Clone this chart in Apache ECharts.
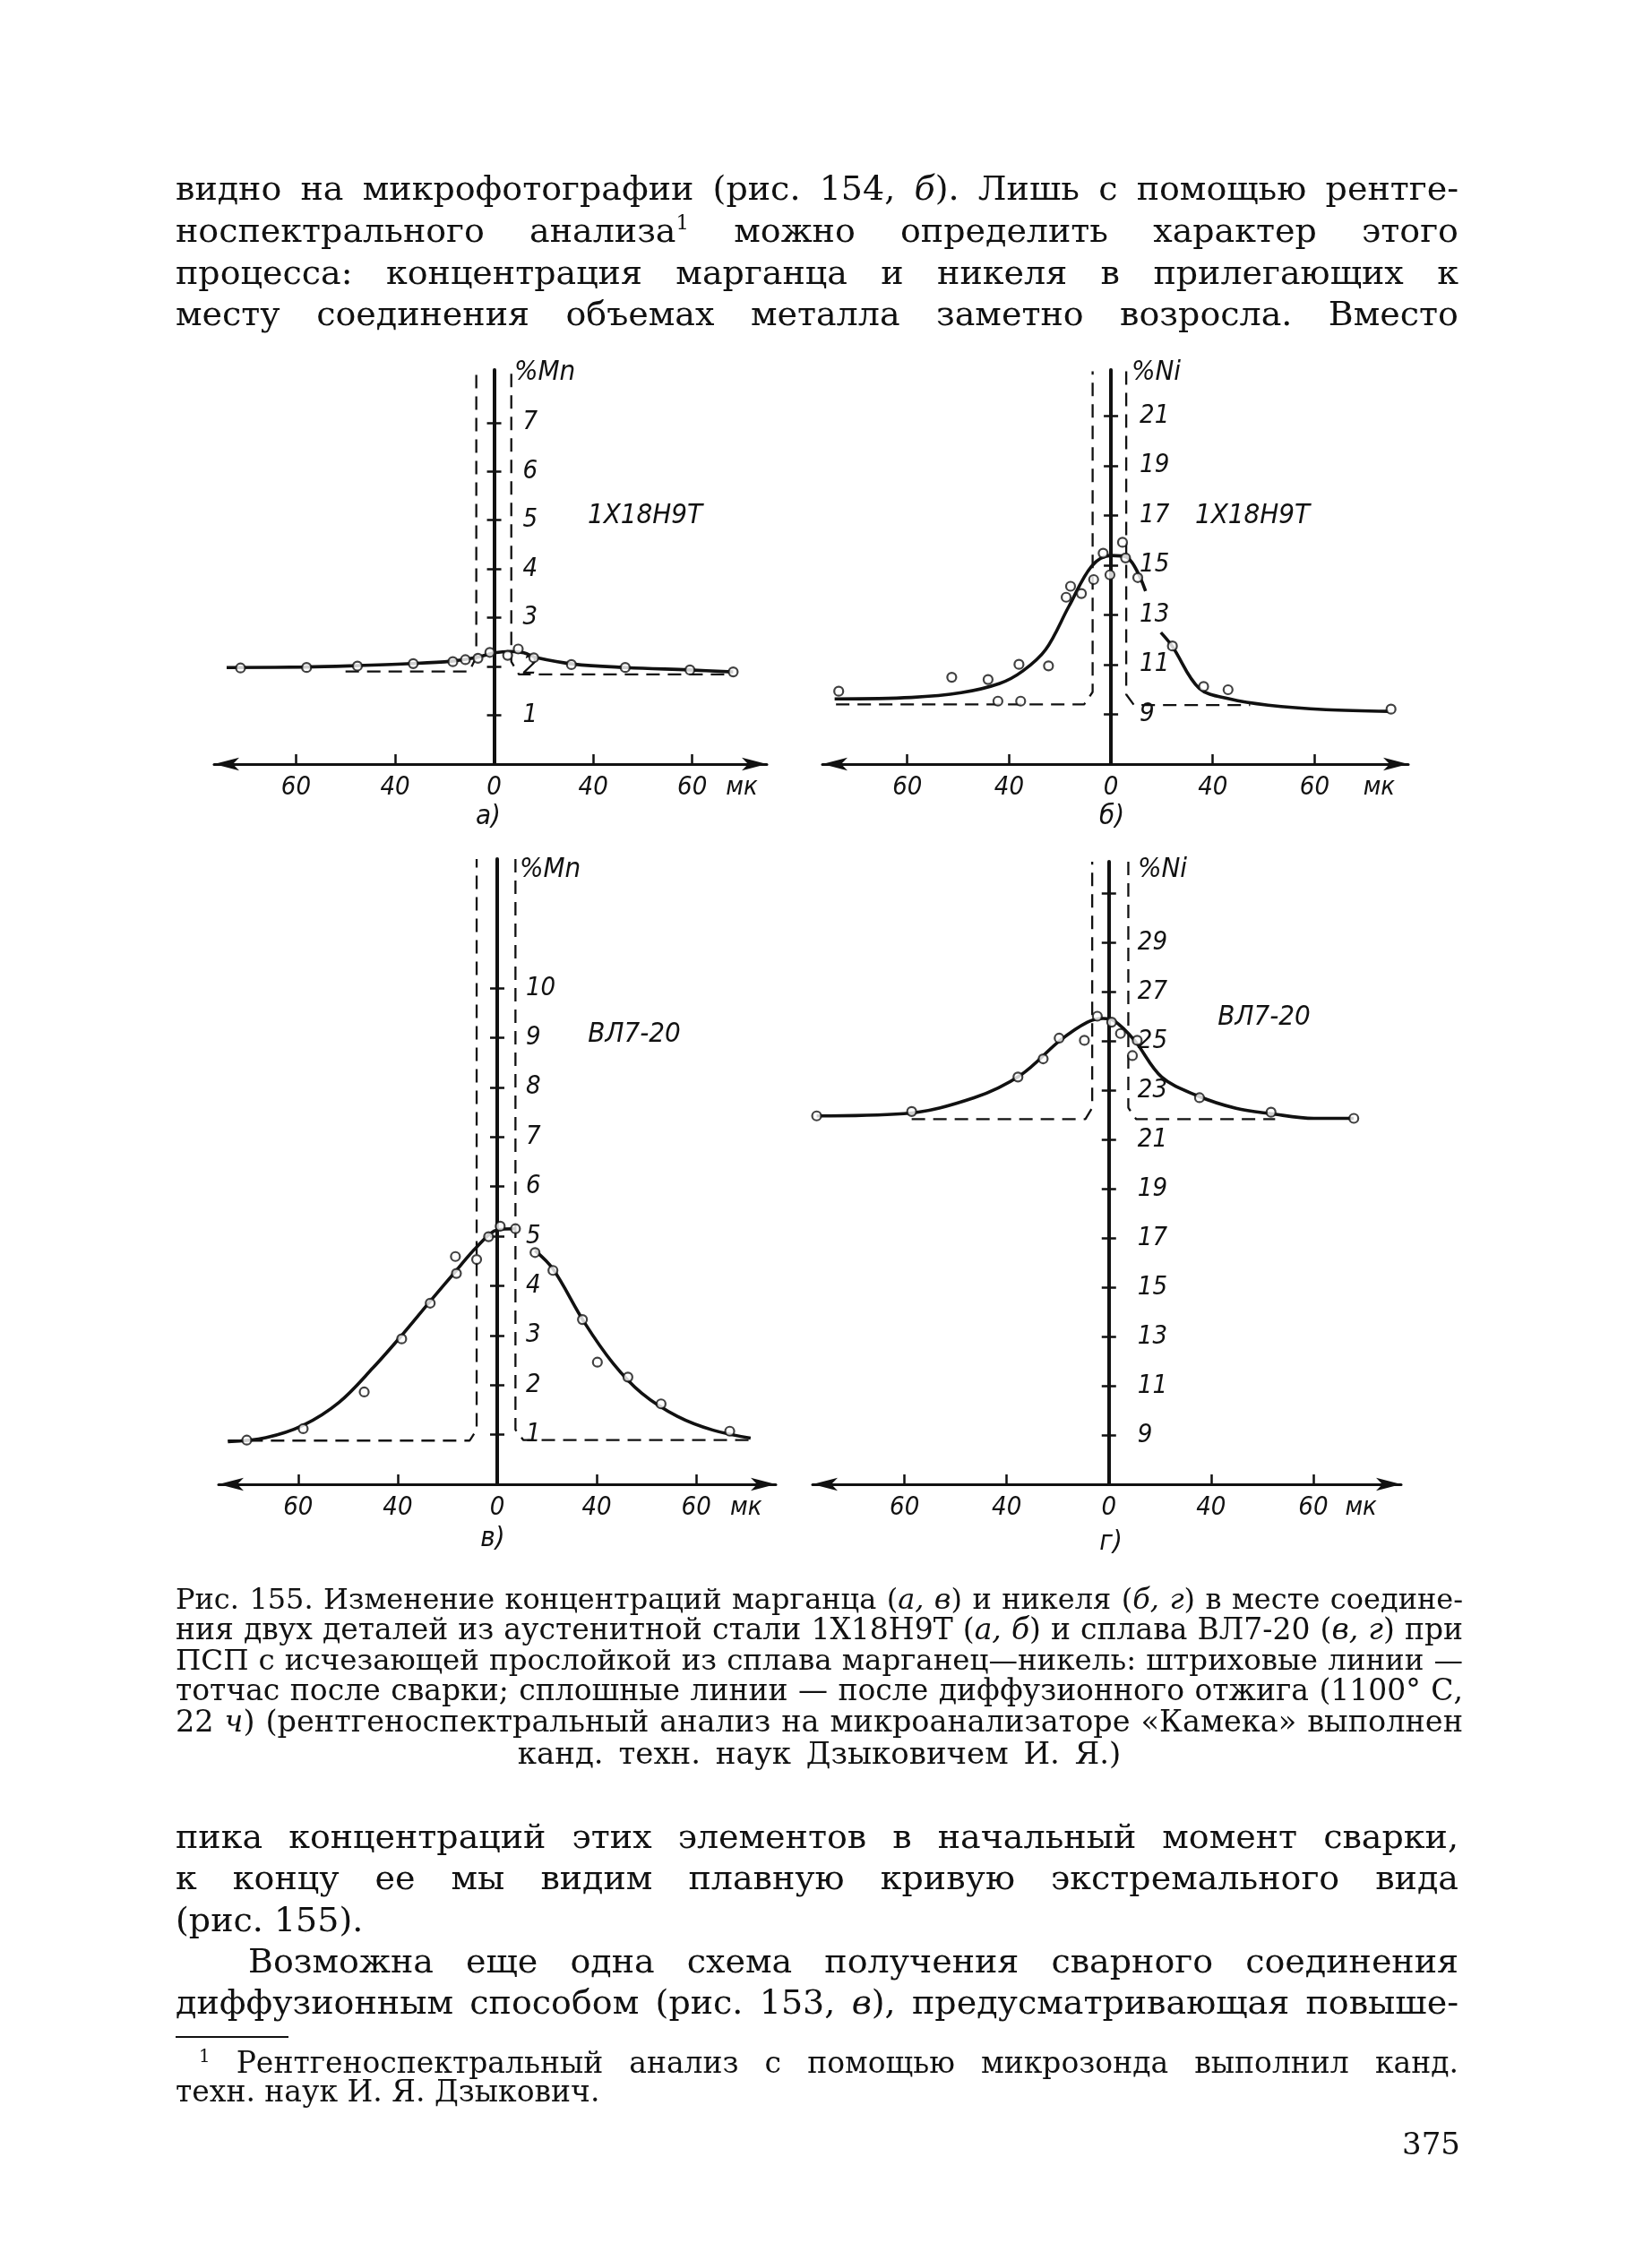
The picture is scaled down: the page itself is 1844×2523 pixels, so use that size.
<!DOCTYPE html>
<html>
<head>
<meta charset="utf-8">
<script src="https://cdn.jsdelivr.net/npm/echarts@6/dist/echarts.min.js"></script>
<style>
  body { margin: 0; background: #fff; }
  #page { position: relative; width: 1844px; height: 2523px; background: #fff; overflow: hidden; }
  #chart { position: absolute; left: 0; top: 0; width: 1844px; height: 2523px; }
  .ln { position: absolute; white-space: nowrap; font-family: "DejaVu Serif", "Liberation Serif", serif; color: #111; }
  .b { font-size: 38px; line-height: 46px; left: 196px; width: 1432px; }
  .c { font-size: 34px; line-height: 34px; left: 196px; width: 1437px; }
  .f { font-size: 33px; line-height: 32px; }
  .j { text-align: justify; text-align-last: justify; }
  sup { font-size: 60%; line-height: 0; }
</style>
</head>
<body>
<div id="page">
  <div id="chart"></div>

  <div class="ln b j" style="top:187px">видно на микрофотографии (рис. 154, <i>б</i>). Лишь с помощью рентге-</div>
  <div class="ln b j" style="top:234px">носпектрального анализа<sup>1</sup> можно определить характер этого</div>
  <div class="ln b j" style="top:281px">процесса: концентрация марганца и никеля в прилегающих к</div>
  <div class="ln b j" style="top:327px">месту соединения объемах металла заметно возросла. Вместо</div>

  <div class="ln c j" style="top:1768px">Рис. 155. Изменение концентраций марганца (<i>а, в</i>) и никеля (<i>б, г</i>) в месте соедине-</div>
  <div class="ln c j" style="top:1802px">ния двух деталей из аустенитной стали 1Х18Н9Т (<i>а, б</i>) и сплава ВЛ7-20 (<i>в, г</i>) при</div>
  <div class="ln c j" style="top:1836px">ПСП с исчезающей прослойкой из сплава марганец—никель: штриховые линии —</div>
  <div class="ln c j" style="top:1870px">тотчас после сварки; сплошные линии — после диффузионного отжига (1100° С,</div>
  <div class="ln c j" style="top:1905px">22 <i>ч</i>) (рентгеноспектральный анализ на микроанализаторе «Камека» выполнен</div>
  <div class="ln c" style="top:1940px; text-align:center; word-spacing:6px">канд. техн. наук Дзыковичем И. Я.)</div>

  <div class="ln b j" style="top:2027px">пика концентраций этих элементов в начальный момент сварки,</div>
  <div class="ln b j" style="top:2073px">к концу ее мы видим плавную кривую экстремального вида</div>
  <div class="ln b" style="top:2120px">(рис. 155).</div>
  <div class="ln b j" style="top:2166px; left:277px; width:1351px">Возможна еще одна схема получения сварного соединения</div>
  <div class="ln b j" style="top:2212px">диффузионным способом (рис. 153, <i>в</i>), предусматривающая повыше-</div>

  <div style="position:absolute; left:196px; top:2273px; width:126px; height:2px; background:#111"></div>
  <div class="ln f j" style="top:2287px; left:222px; width:1406px"><sup>1</sup> Рентгеноспектральный анализ с помощью микрозонда выполнил канд.</div>
  <div class="ln f" style="top:2319px; left:196px">техн. наук И. Я. Дзыкович.</div>

  <div class="ln" style="top:2370px; left:1530px; width:100px; text-align:right; font-size:34px; line-height:46px">375</div>
</div>

<script>
// позиции по оси x: одно деление шкалы = 30 единиц (подписи 0, 40, 60 как в книге)
var xTickPos = [-60, -30, 0, 30, 60];
var xTickText = ['60', '40', '0', '40', '60'];

// а) Mn, сталь 1Х18Н9Т
var mnA_pts = [[-76.8, 1.97], [-56.8, 1.98], [-41.4, 2.01], [-24.5, 2.06], [-12.5, 2.10], [-8.7, 2.14],
  [-4.9, 2.17], [-1.3, 2.29], [4.1, 2.23], [7.3, 2.36], [12.0, 2.18], [23.4, 2.04], [39.7, 1.98],
  [59.3, 1.93], [72.4, 1.89]];
var mnA_curve = [[-81, 1.98], [-57, 1.99], [-41, 2.02], [-25, 2.06], [-13, 2.11], [-5, 2.19], [0, 2.28],
  [5, 2.31], [9, 2.28], [13, 2.18], [24, 2.05], [40, 1.98], [59, 1.93], [72.4, 1.89]];
var mnA_dashL = [[-45, 1.9], [-7.5, 1.9], [-5.4, 2.2], [-5.4, 8.0]];
var mnA_dashR = [[5.2, 8.0], [5.2, 2.1], [7.5, 1.84], [71, 1.84]];

// б) Ni, сталь 1Х18Н9Т
var niB_pts = [[-80.2, 9.93], [-46.9, 10.49], [-36.2, 10.40], [-27.1, 11.01], [-18.4, 10.95], [-33.3, 9.53],
  [-26.6, 9.53], [-13.2, 13.71], [-11.9, 14.15], [-8.7, 13.86], [-5.1, 14.42], [-2.3, 15.48], [-0.3, 14.61],
  [3.4, 15.92], [4.3, 15.29], [7.9, 14.50], [18.1, 11.75], [27.3, 10.12], [34.5, 9.99], [82.5, 9.21]];
var niB_curveL = [[-81.4, 9.62], [-58.8, 9.68], [-44.1, 9.87], [-32.8, 10.24], [-26, 10.74], [-19.2, 11.61],
  [-12.4, 13.34], [-5.7, 14.96], [0, 15.39], [4.5, 15.33], [10.2, 13.96]];
var niB_curveR = [[14.7, 12.29], [18.1, 11.73], [26, 10.05], [35, 9.62], [46.3, 9.37], [63.3, 9.19], [81.9, 9.12]];
var niB_dashL = [[-81, 9.4], [-7.9, 9.4], [-5.4, 9.9], [-5.4, 22.8]];
var niB_dashR = [[4.5, 22.8], [4.5, 9.8], [6.8, 9.37], [41, 9.37]];

// в) Mn, сплав ВЛ7-20
var mnV_pts = [[-75.5, 0.89], [-58.5, 1.12], [-40.1, 1.86], [-28.8, 2.93], [-20.2, 3.65], [-12.3, 4.25],
  [-12.6, 4.59], [-6.2, 4.53], [-2.6, 4.99], [0.9, 5.20], [5.5, 5.15], [11.4, 4.67], [16.8, 4.31],
  [25.7, 3.32], [30.2, 2.46], [39.4, 2.16], [49.4, 1.62], [70.1, 1.07]];
var mnV_curveL = [[-81.2, 0.86], [-69.8, 0.94], [-58.5, 1.19], [-47.7, 1.65], [-37.4, 2.35], [-28.8, 3.0],
  [-20.2, 3.69], [-12.3, 4.31], [-6.2, 4.78], [0.3, 5.13], [5.5, 5.15]];
var mnV_curveR = [[11.4, 4.71], [16.8, 4.34], [26.2, 3.27], [34.9, 2.44], [43.5, 1.84], [54.3, 1.37],
  [65.1, 1.09], [76.4, 0.93]];
var mnV_dashL = [[-81.2, 0.88], [-8.3, 0.88], [-6.2, 1.1], [-6.2, 12.6]];
var mnV_dashR = [[5.5, 12.6], [5.5, 1.1], [7.9, 0.89], [76.4, 0.89]];

// г) Ni, сплав ВЛ7-20
var niG_pts = [[-85.8, 21.97], [-57.9, 22.15], [-26.7, 23.55], [-19.3, 24.29], [-14.6, 25.13], [-7.2, 25.04],
  [-3.4, 26.02], [0.8, 25.78], [3.4, 25.32], [8.3, 25.04], [6.9, 24.42], [26.6, 22.71], [47.6, 22.12],
  [71.9, 21.87]];
var niG_curve = [[-85.8, 21.97], [-60.2, 22.06], [-39.6, 22.71], [-25.8, 23.64], [-14.3, 25.04], [-6.3, 25.78],
  [-1.7, 25.93], [1.7, 25.82], [7.5, 25.04], [15.5, 23.55], [25.8, 22.8], [37.3, 22.28], [47.6, 22.06],
  [60.2, 21.87], [71.9, 21.87]];
var niG_dashL = [[-57.9, 21.84], [-6.9, 21.84], [-4.9, 22.3], [-4.9, 32.3]];
var niG_dashR = [[5.7, 32.3], [5.7, 22.3], [8, 21.84], [48.8, 21.84]];

// деления по оси y
var yTicksA = [1, 2, 3, 4, 5, 6, 7];
var yTicksB = [9, 11, 13, 15, 17, 19, 21];
var yTicksV = [1, 2, 3, 4, 5, 6, 7, 8, 9, 10];
var yTicksG = [9, 11, 13, 15, 17, 19, 21, 23, 25, 27, 29, 31];
var yLabelsG = [9, 11, 13, 15, 17, 19, 21, 23, 25, 27, 29];

var INK = '#111';
var DRAW_FONT = '"Liberation Sans Narrow", "DejaVu Sans Condensed", "Liberation Sans", sans-serif';

var panels = [
  { box: { left: 239, top: 413, width: 617, height: 440 }, xr: [-84.8, 82.6], yr: [0, 8.08], mk: 75,
    yTicks: yTicksA, yLabels: yTicksA, curves: [mnA_curve], dashes: [mnA_dashL, mnA_dashR], pts: mnA_pts },
  { box: { left: 918, top: 413, width: 654, height: 440 }, xr: [-85, 87.6], yr: [7, 22.85], mk: 79,
    yTicks: yTicksB, yLabels: yTicksB, curves: [niB_curveL, niB_curveR], dashes: [niB_dashL, niB_dashR], pts: niB_pts },
  { box: { left: 244, top: 959, width: 622, height: 698 }, xr: [-84, 84], yr: [0, 12.6], mk: 75,
    yTicks: yTicksV, yLabels: yTicksV, curves: [mnV_curveL, mnV_curveR], dashes: [mnV_dashL, mnV_dashR], pts: mnV_pts },
  { box: { left: 907, top: 962, width: 657, height: 695 }, xr: [-87, 85.8], yr: [7, 32.3], mk: 74,
    yTicks: yTicksG, yLabels: yLabelsG, curves: [niG_curve], dashes: [niG_dashL, niG_dashR], pts: niG_pts }
];

var option = {
  backgroundColor: 'transparent',
  animation: false,
  grid: [], xAxis: [], yAxis: [], series: [],
  graphic: []
};

panels.forEach(function (p, k) {
  // ось y стоит на x = 0: сдвигаем её внутрь сетки
  var zeroShift = p.box.width * (0 - p.xr[0]) / (p.xr[1] - p.xr[0]);
  option.grid.push(p.box);
  option.xAxis.push({
    type: 'value', gridIndex: k, min: p.xr[0], max: p.xr[1],
    splitLine: { show: false },
    axisLine: { onZero: false, symbol: ['arrow', 'arrow'], symbolSize: [11, 28], lineStyle: { color: INK, width: 3 } },
    axisTick: { customValues: xTickPos, inside: true, length: 11, lineStyle: { color: INK, width: 2.5 } },
    axisLabel: {
      customValues: xTickPos.concat([p.mk]), margin: 12, color: INK,
      fontStyle: 'italic', fontSize: 29, fontFamily: DRAW_FONT,
      formatter: function (v) {
        if (v === p.mk) return 'мк';
        var i = xTickPos.indexOf(v);
        return i >= 0 ? xTickText[i] : '';
      }
    }
  });
  // основная ось y: линия, деления влево, подписи справа
  option.yAxis.push({
    type: 'value', gridIndex: k, position: 'left', offset: -zeroShift, min: p.yr[0], max: p.yr[1],
    splitLine: { show: false },
    axisLine: { onZero: false, lineStyle: { color: INK, width: 4 } },
    axisTick: { customValues: p.yTicks, inside: false, length: 8, lineStyle: { color: INK, width: 2.5 } },
    axisLabel: { customValues: p.yLabels, inside: true, margin: 32, color: INK,
      fontStyle: 'italic', fontSize: 29, fontFamily: DRAW_FONT }
  });
  // вторая ось только ради делений вправо (крестики на оси)
  option.yAxis.push({
    type: 'value', gridIndex: k, position: 'left', offset: -zeroShift, min: p.yr[0], max: p.yr[1],
    splitLine: { show: false },
    axisLine: { show: false, onZero: false },
    axisTick: { customValues: p.yTicks, inside: true, length: 8, lineStyle: { color: INK, width: 2.5 } },
    axisLabel: { show: false }
  });
  var yi = 2 * k;
  p.dashes.forEach(function (d) {
    option.series.push({
      type: 'line', xAxisIndex: k, yAxisIndex: yi, data: d, symbol: 'none', z: 2,
      lineStyle: { color: INK, width: 2.3, type: [15, 9] }
    });
  });
  p.curves.forEach(function (c) {
    option.series.push({
      type: 'line', xAxisIndex: k, yAxisIndex: yi, data: c, symbol: 'none', smooth: 0.35, z: 3,
      lineStyle: { color: INK, width: 3.6 }
    });
  });
  option.series.push({
    type: 'scatter', xAxisIndex: k, yAxisIndex: yi, data: p.pts, symbol: 'circle', symbolSize: 10, z: 4,
    itemStyle: { color: '#fff', borderColor: INK, borderWidth: 2.2 }
  });
});

function txt(s, x, y, size, align) {
  return {
    type: 'text', x: x, y: y, z: 10,
    style: {
      text: s, fill: INK, font: 'italic ' + size + 'px ' + DRAW_FONT,
      align: align || 'center', textAlign: align || 'center',
      verticalAlign: 'middle', textVerticalAlign: 'middle'
    }
  };
}

option.graphic = [
  txt('%Mn', 574, 416, 31, 'left'),
  txt('%Ni', 1263, 416, 31, 'left'),
  txt('%Mn', 580, 971, 31, 'left'),
  txt('%Ni', 1270, 971, 31, 'left'),
  txt('1Х18Н9Т', 720, 576, 31),
  txt('1Х18Н9Т', 1398, 576, 31),
  txt('ВЛ7-20', 708, 1155, 31),
  txt('ВЛ7-20', 1411, 1136, 31),
  txt('а)', 545, 912, 31),
  txt('б)', 1241, 912, 31),
  txt('в)', 550, 1718, 31),
  txt('г)', 1240, 1722, 31)
];

var chart = echarts.init(document.getElementById('chart'), null, { renderer: 'canvas' });
chart.setOption(option);

// если строка шире набора, чуть уменьшаем кегль, чтобы она встала в ширину
document.querySelectorAll('.ln.j').forEach(function (el) {
  var fs = parseFloat(getComputedStyle(el).fontSize);
  while (el.scrollWidth > el.clientWidth + 1 && fs > 10) {
    fs -= 0.5;
    el.style.fontSize = fs + 'px';
  }
});
</script>
</body>
</html>
